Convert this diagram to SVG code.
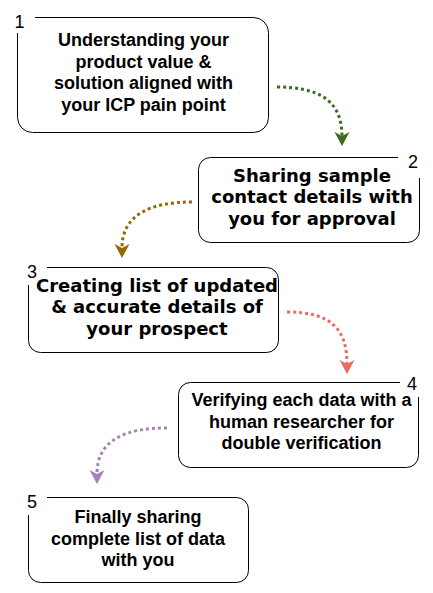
<svg xmlns="http://www.w3.org/2000/svg" width="433" height="593" viewBox="0 0 433 593">
<style>
.box{fill:#fff;stroke:#000;stroke-width:1}
.bg{fill:#fff;stroke:none}
.num{font-family:"Liberation Sans",Arial,sans-serif;font-size:18px;fill:#000;text-anchor:middle}
.ta{font-family:"Liberation Sans",Arial,sans-serif;font-size:18px;font-weight:bold;fill:#000;text-anchor:middle}
.tv{font-family:"DejaVu Sans",Verdana,sans-serif;font-size:18px;font-weight:bold;fill:#000;text-anchor:middle}
.edge{fill:none;stroke-width:3;stroke-dasharray:3 3}
</style>
<defs>
<marker id="mg" markerUnits="userSpaceOnUse" markerWidth="16" markerHeight="16" viewBox="-15 -8 16 16" refX="-10" refY="0" orient="auto"><path d="M0,0 L-14,-7.5 L-10,0 L-14,7.5 Z" fill="#3d6b1c"/></marker>
<marker id="mb" markerUnits="userSpaceOnUse" markerWidth="16" markerHeight="16" viewBox="-15 -8 16 16" refX="-10" refY="0" orient="auto"><path d="M0,0 L-14,-7.5 L-10,0 L-14,7.5 Z" fill="#996600"/></marker>
<marker id="ms" markerUnits="userSpaceOnUse" markerWidth="16" markerHeight="16" viewBox="-15 -8 16 16" refX="-10" refY="0" orient="auto"><path d="M0,0 L-14,-7.5 L-10,0 L-14,7.5 Z" fill="#ea6b66"/></marker>
<marker id="mp" markerUnits="userSpaceOnUse" markerWidth="16" markerHeight="16" viewBox="-15 -8 16 16" refX="-10" refY="0" orient="auto"><path d="M0,0 L-14,-7.5 L-10,0 L-14,7.5 Z" fill="#a680b8"/></marker>
</defs>
<g id="connectors">
<path class="edge" stroke="#3d6b1c" d="M277,87 C318,87 342,100 342,136" marker-end="url(#mg)"/>
<path class="edge" stroke="#996600" d="M192,202 C150,202 122,215 122,248" marker-end="url(#mb)"/>
<path class="edge" stroke="#ea6b66" d="M287,312 C330,312 347,328 347,364" marker-end="url(#ms)"/>
<path class="edge" stroke="#a680b8" d="M167,428 C125,428 97,440 97,474" marker-end="url(#mp)"/>
</g>
<g id="step1">
<rect class="box" x="17.5" y="17.5" width="251" height="115" rx="15"/>
<rect class="bg" x="9" y="8" width="26" height="25"/>
<text class="num" x="19.5" y="28">1</text>
<text class="ta" x="143.5" y="46">Understanding your</text>
<text class="ta" x="143.5" y="67.5">product value &amp;</text>
<text class="ta" x="143.5" y="89">solution aligned with</text>
<text class="ta" x="143.5" y="110.5">your ICP pain point</text>
</g>
<g id="step2">
<rect class="box" x="198.5" y="157.5" width="221" height="85" rx="12"/>
<rect class="bg" x="398" y="150" width="28" height="28"/>
<text class="num" x="413" y="168">2</text>
<text class="tv" x="312" y="181.5">Sharing sample</text>
<text class="tv" x="312" y="203">contact details with</text>
<text class="tv" x="312" y="224.5">you for approval</text>
</g>
<g id="step3">
<rect class="box" x="28.5" y="267.5" width="250" height="85" rx="12"/>
<rect class="bg" x="20" y="258" width="27" height="27"/>
<text class="num" x="32" y="278">3</text>
<text class="tv" x="157" y="291.5">Creating list of updated</text>
<text class="tv" x="157" y="313">&amp; accurate details of</text>
<text class="tv" x="157" y="334.5">your prospect</text>
</g>
<g id="step4">
<rect class="box" x="178.5" y="382.5" width="240" height="85" rx="12"/>
<rect class="bg" x="400" y="370" width="26" height="27"/>
<text class="num" x="412" y="390">4</text>
<text class="ta" x="301.5" y="406">Verifying each data with a</text>
<text class="ta" x="301.5" y="427.6">human researcher for</text>
<text class="ta" x="301.5" y="449.2">double verification</text>
</g>
<g id="step5">
<rect class="box" x="28.5" y="497.5" width="220" height="85" rx="12"/>
<rect class="bg" x="20" y="488" width="27" height="27"/>
<text class="num" x="32" y="508">5</text>
<text class="ta" x="138" y="523">Finally sharing</text>
<text class="ta" x="138" y="544.6">complete list of data</text>
<text class="ta" x="138" y="566.2">with you</text>
</g>
</svg>
